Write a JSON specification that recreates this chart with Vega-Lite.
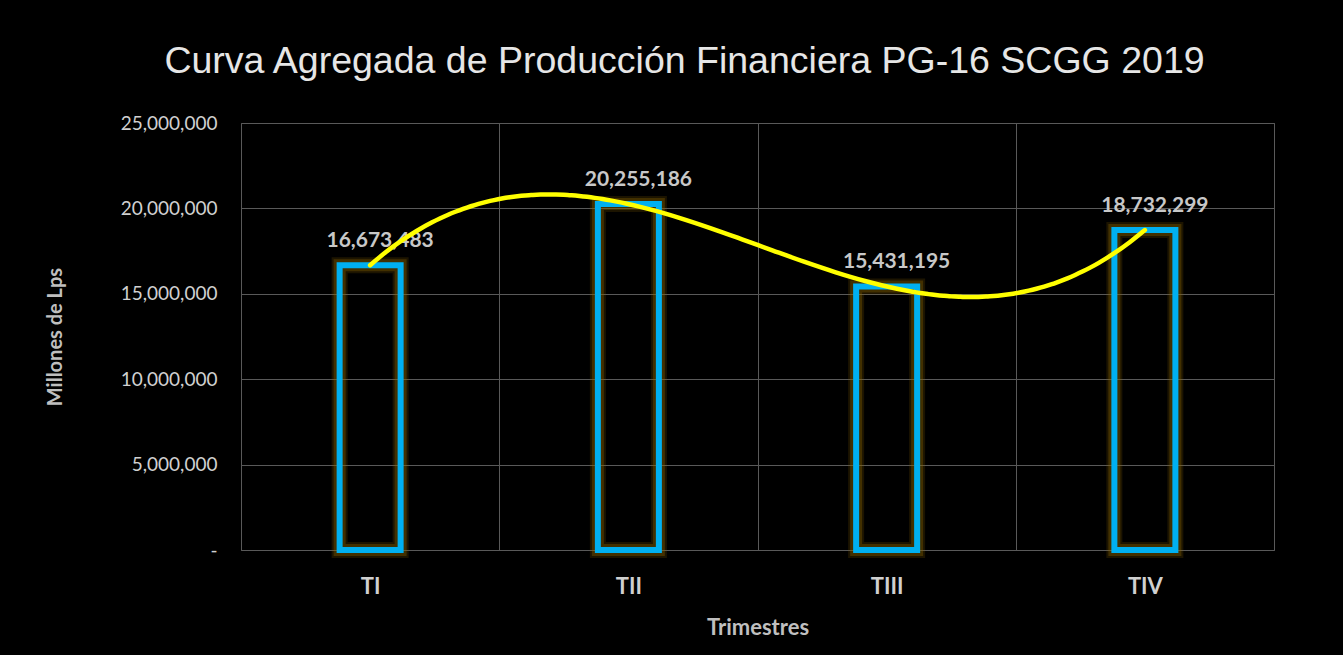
{
  "$schema": "https://vega.github.io/schema/vega-lite/v6.json",
  "width": 1033,
  "height": 427,
  "autosize": {"type": "none"},
  "padding": {"left": 241, "top": 123, "right": 69, "bottom": 105},
  "background": "#000000",
  "config": {"view": {"stroke": "#595959", "strokeWidth": 1}, "font": "Lato"},
  "title": {
    "text": "Curva Agregada de Producción Financiera PG-16 SCGG 2019",
    "font": "Liberation Sans",
    "fontSize": 37.5,
    "fontWeight": "normal",
    "color": "#e6e6e6",
    "anchor": "middle",
    "baseline": "alphabetic",
    "dx": -73,
    "offset": 4
  },
  "data": {
    "values": [
      {"trimestre": "TI", "orden": 1, "monto": 16673483},
      {"trimestre": "TII", "orden": 2, "monto": 20255186},
      {"trimestre": "TIII", "orden": 3, "monto": 15431195},
      {"trimestre": "TIV", "orden": 4, "monto": 18732299}
    ]
  },
  "layer": [
    {
      "encoding": {
        "x": {
          "field": "trimestre", "type": "nominal", "sort": ["TI", "TII", "TIII", "TIV"],
          "scale": {"paddingInner": 0, "paddingOuter": 0},
          "axis": {
            "title": "Trimestres", "titleFont": "Lato", "titleFontSize": 22, "titleFontWeight": "bold",
            "titleColor": "#bfbfbf", "titleY": 77, "titleBaseline": "middle",
            "labelFont": "Lato", "labelFontSize": 22, "labelFontWeight": "bold", "labelColor": "#d0d0d0",
            "labelAngle": 0, "labelPadding": 26, "ticks": false, "tickSize": 0, "domain": false,
            "grid": true, "gridColor": "#595959", "gridWidth": 1, "tickBand": "extent"
          }
        },
        "y": {
          "field": "monto", "type": "quantitative",
          "scale": {"domain": [0, 25000000], "nice": false},
          "axis": {
            "title": "Millones de Lps", "titleFont": "Lato", "titleFontSize": 20, "titleFontWeight": "bold",
            "titleColor": "#bfbfbf", "titleX": -186, "titleY": 213.5, "titleAngle": -90,
            "titleBaseline": "middle", "titleAlign": "center",
            "labelFont": "Lato", "labelFontSize": 19, "labelColor": "#d0d0d0", "labelPadding": 24,
            "ticks": false, "tickSize": 0, "domain": false,
            "grid": true, "gridColor": "#595959", "gridWidth": 1,
            "values": [0, 5000000, 10000000, 15000000, 20000000, 25000000],
            "labelExpr": "datum.value === 0 ? '-\u00a0\u00a0' : format(datum.value, ',')"
          }
        }
      },
      "layer": [
        {"mark": {"type": "bar", "fill": "transparent", "stroke": "#8a6400", "strokeWidth": 16, "strokeOpacity": 0.2, "size": 61}},
        {"mark": {"type": "bar", "fill": "transparent", "stroke": "#8a6400", "strokeWidth": 12, "strokeOpacity": 0.35, "size": 61}},
        {"mark": {"type": "bar", "fill": "transparent", "stroke": "#00B0F0", "strokeWidth": 6, "size": 61}},
        {
          "mark": {"type": "text", "font": "Lato", "fontSize": 21, "fontWeight": "bold", "color": "#c8c8c8", "baseline": "alphabetic", "dy": -18, "dx": 10},
          "encoding": {"text": {"field": "monto", "type": "quantitative", "format": ","}}
        }
      ]
    },
    {
      "transform": [{"regression": "monto", "on": "orden", "method": "poly", "order": 3, "extent": [1, 4]}],
      "mark": {"type": "line", "color": "#FFFF00", "strokeWidth": 4.5, "strokeCap": "round", "interpolate": "monotone"},
      "encoding": {
        "x": {"field": "orden", "type": "quantitative", "scale": {"domain": [0.5, 4.5], "nice": false, "zero": false}, "axis": null},
        "y": {"field": "monto", "type": "quantitative"}
      }
    }
  ],
  "resolve": {"scale": {"x": "independent"}}
}
